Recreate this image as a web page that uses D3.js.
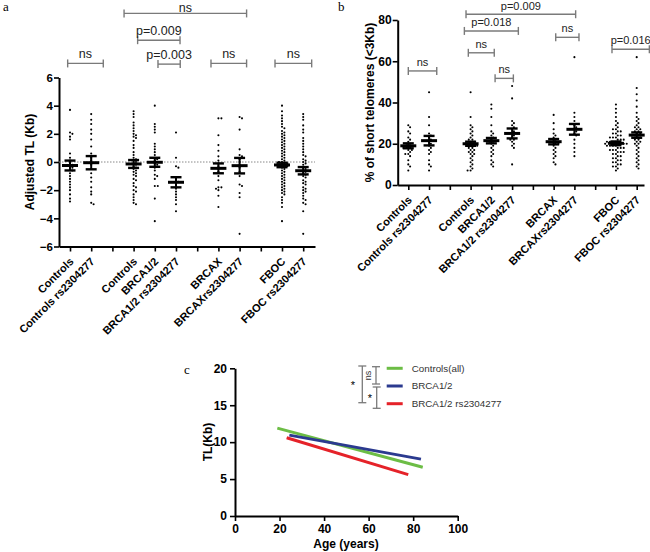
<!DOCTYPE html>
<html><head><meta charset="utf-8">
<script src="https://cdn.jsdelivr.net/npm/d3@7"></script>
<style>
body{margin:0;background:#fff;}
svg{display:block;font-family:Arial,"Liberation Sans",sans-serif;}
</style></head>
<body><svg id="chart" width="650" height="552"></svg>
<script>
// ---------- DATA ----------
const groupLabels = ["Controls","Controls rs2304277","","Controls","BRCA1/2","BRCA1/2 rs2304277","","BRCAX","BRCAXrs2304277","","FBOC","FBOC rs2304277"];

// Panel a: adjusted TL (Kb)
const aTicks = [-6,-4,-2,0,2,4,6];
const aControls = [3.7,2.1,2.0,1.8,1.6,0.6,0.3,0.1,-0.1,-0.2,-0.3,-0.4,-0.5,-0.6,-0.8,-1.0,-1.2,-1.4,-1.6,-1.8,-2.0,-2.3,-2.6,-2.8];
const aControlsRs = [3.4,3.0,2.7,2.3,2.0,1.6,1.1,0.6,0.3,0.1,-0.2,-0.5,-0.8,-1.1,-1.4,-1.8,-2.1,-2.3,-2.9,-3.0];
const aControls2 = [3.6,3.4,3.2,2.8,2.6,2.4,2.2,2.0,1.9,1.8,1.7,1.5,1.2,1.0,0.7,0.5,0.3,0.2,0.1,0.0,-0.1,-0.2,-0.3,-0.4,-0.5,-0.6,-0.7,-0.8,-0.9,-1.0,-1.2,-1.3,-1.5,-1.7,-1.8,-2.0,-2.1,-2.3,-2.5,-2.7,-2.9,-3.0];
const aBRCA = [4.0,2.7,2.5,2.3,2.1,1.3,1.1,0.9,0.7,0.5,0.3,0.2,0.1,0.0,-0.1,-0.2,-0.4,-0.6,-0.9,-1.0,-1.2,-1.7,-1.7,-2.6,-4.2];
const aBRCARs = [2.1,0.3,-0.3,-0.4,-1.1,-1.3,-1.4,-1.5,-1.7,-1.9,-2.1,-2.3,-2.5,-2.7,-3.0,-3.5];
const aBRCAX = [3.1,3.1,1.9,1.2,0.8,0.4,0.1,-0.1,-0.3,-0.5,-0.7,-1.0,-1.3,-1.8,-1.8,-1.9,-2.0,-2.4,-3.2];
const aBRCAXRs = [3.2,3.1,2.3,0.9,0.5,0.4,0.2,0.0,-0.2,-0.4,-0.7,-1.0,-1.6,-1.7,-2.2,-2.5,-5.1];
const aFBOC = [4.0,3.6,3.3,3.1,2.9,2.7,2.5,2.4,2.2,2.1,2.0,1.9,1.8,1.7,1.6,1.5,1.4,1.3,1.2,1.1,1.0,0.9,0.8,0.7,0.6,0.5,0.4,0.3,0.2,0.1,0.0,0.0,-0.1,-0.1,-0.2,-0.2,-0.3,-0.3,-0.4,-0.5,-0.6,-0.7,-0.8,-0.9,-1.0,-1.1,-1.2,-1.3,-1.4,-1.5,-1.6,-1.7,-1.8,-1.9,-2.0,-2.1,-2.2,-2.3,-2.5,-2.7,-2.9,-3.2,-4.2];
const aFBOCRs = [3.4,3.2,3.0,2.6,2.3,2.1,1.7,1.5,1.3,1.1,0.9,0.7,0.5,0.4,0.2,0.1,0.0,-0.1,-0.2,-0.4,-0.5,-0.6,-0.7,-0.8,-0.9,-1.0,-1.1,-1.3,-1.4,-1.5,-1.6,-1.8,-1.9,-2.0,-2.1,-2.2,-2.4,-2.6,-2.7,-2.9,-3.0,-3.5,-5.1];
const aGroups = [aControls,aControlsRs,[],aControls2,aBRCA,aBRCARs,[],aBRCAX,aBRCAXRs,[],aFBOC,aFBOCRs];
const aMeans = [-0.25,-0.05,null,-0.14,-0.02,-1.44,null,-0.45,-0.26,null,-0.21,-0.62];
const aSems  = [0.35,0.47,null,0.28,0.32,0.36,null,0.35,0.55,null,0.16,0.26];
// brackets: [fromIndex, toIndex, yValue, label]
const aBrackets = [[-0.11,1.57,7.0,"ns"],[2.55,8.33,10.55,"ns"],[3.19,5.19,8.65,"p=0.009"],[4.15,5.2,6.95,"p=0.003"],[6.65,8.33,7.0,"ns"],[9.67,11.4,7.0,"ns"]];

// Panel b: % short telomeres
const bTicks = [0,20,40,60,80];
const bControls = [29,28,26,25,23,22,21,20,20,19,19,18,18,18,17,17,16,15,15,14,12,10,9,7];
const bControlsRs = [45,33,29,25,24,23,22,21,20,19,18,17,16,15,12,10,9,7];
const bControls2 = [45,33,29,28,27,26,25,24,23,22,22,21,21,20,20,20,19,19,19,18,18,17,17,16,16,15,15,14,13,12,11,10,9,8,7,7];
const bBRCA = [39,37,33,29,26,25,24,23,22,21,21,20,19,18,17,16,15,14,12,11,10,9];
const bBRCARs = [48,42,31,30,29,28,27,26,25,24,23,22,22,21,20,19,18,10];
const bBRCAX = [34,30,27,25,24,23,22,21,21,20,20,19,18,17,16,15,14,13,11,10];
const bBRCAXRs = [62,35,33,31,29,28,27,26,25,24,22,20,18,16,14];
const bFBOC = [39,37,35,33,31,30,29,28,27,27,26,26,25,25,24,24,23,23,23,22,22,22,21,21,21,21,20,20,20,20,20,19,19,19,19,18,18,18,17,17,17,16,16,16,15,15,14,14,13,13,12,12,11,11,10,10,9,9,8,7];
const bFBOCRs = [62,47,44,41,38,35,33,32,31,30,29,28,28,27,27,26,26,25,25,24,24,24,23,23,22,22,21,21,20,20,19,18,17,16,15,14,13,12,11,10,9,8];
const bGroups = [bControls,bControlsRs,[],bControls2,bBRCA,bBRCARs,[],bBRCAX,bBRCAXRs,[],bFBOC,bFBOCRs];
const bMeans = [19.0,21.5,null,20.0,21.5,25.0,null,21.0,27.0,null,20.2,24.2];
const bSems  = [1.2,2.3,null,1.0,1.3,2.4,null,1.3,2.6,null,0.9,1.3];
const bBrackets = [[0,1.37,55.3,"ns"],[2.78,8.06,82.8,"p=0.009"],[2.70,5.30,74.7,"p=0.018"],[2.89,4.14,64.1,"ns"],[4.18,5.06,51.7,"ns"],[7.10,8.22,71.6,"ns"],[9.81,11.61,65.8,"p=0.016"]];

// Panel c: TL vs age regression lines
const cXTicks = [0,20,40,60,80,100];
const cYTicks = [0,5,10,15,20];
const cNames = ["Controls(all)","BRCA1/2","BRCA1/2 rs2304277"];
const cColors = ["#6cbd45","#2b3a8f","#e52229"];
const cAgeStart = [19.0,24.4,23.2];
const cTLStart  = [11.9,10.95,10.6];
const cAgeEnd   = [84.3,83.5,77.8];
const cTLEnd    = [6.6,7.7,5.6];

// ---------- DRAWING ----------
const svg = d3.select("#chart");
const FONT = 'Arial,"Liberation Sans",sans-serif';
const BR = "#7a7a7a";

function swarm(vals, yS, xc, minD){
  const pts = vals.map(v=>({y:yS(v)})).sort((p,q)=>p.y-q.y);
  const placed=[];
  pts.forEach(p=>{
    for(let k=0;k<200;k++){
      const off = (k%2?1:-1)*Math.ceil(k/2)*0.6;
      const x = xc+off;
      if(!placed.some(q=>(q.x-x)**2+(q.y-p.y)**2 < minD*minD)){ p.x=x; placed.push(p); break; }
    }
  });
  return placed;
}

function dotPanel(cfg){
  const g = svg.append("g");
  const x = d3.scaleLinear().domain([0,11]).range(cfg.xr);
  const y = d3.scaleLinear().domain(cfg.yd).range(cfg.yr);
  // y axis
  const ya = g.append("g").attr("transform",`translate(${cfg.axX},0)`)
    .call(d3.axisLeft(y).tickValues(cfg.ticks).tickSize(5).tickSizeOuter(0).tickFormat(d3.format("d")));
  ya.select(".domain").attr("stroke-width",2);
  ya.selectAll(".tick line").attr("stroke-width",1.6);
  ya.selectAll("text").attr("font-family",FONT).attr("font-weight","bold").attr("font-size",cfg.tickFs).attr("fill","#000").attr("x",-6);
  // x axis
  const xAxisScale = d3.scaleLinear().domain([x.invert(cfg.axX), x.invert(cfg.axEnd)]).range([cfg.axX,cfg.axEnd]);
  const xa = g.append("g").attr("transform",`translate(0,${cfg.yr[0]})`)
    .call(d3.axisBottom(xAxisScale).tickValues(d3.range(12)).tickSize(5).tickSizeOuter(0).tickFormat(i=>groupLabels[i]));
  xa.select(".domain").attr("stroke-width",2);
  xa.selectAll(".tick line").attr("stroke-width",1.6);
  xa.selectAll("text").attr("font-family",FONT).attr("font-weight","bold").attr("font-size",11).attr("fill","#000")
    .attr("text-anchor","end").attr("x",0).attr("y",0).attr("dy","0.35em")
    .attr("transform","translate(1,13) rotate(-45)");
  if(cfg.zeroLine){
    g.append("line").attr("x1",cfg.axX).attr("x2",cfg.axEnd).attr("y1",y(0)).attr("y2",y(0))
      .attr("stroke","#888").attr("stroke-width",1).attr("stroke-dasharray","1.5,1.5");
  }
  // dots
  cfg.groups.forEach((vals,i)=>{
    const pts = swarm(vals,y,x(i),2.7);
    g.append("g").selectAll("circle").data(pts).join("circle")
      .attr("cx",d=>d.x).attr("cy",d=>d.y).attr("r",1.05).attr("fill","#000");
  });
  // mean + sem
  cfg.means.forEach((m,i)=>{
    if(m==null) return;
    const s=cfg.sems[i], cx=x(i);
    const e = g.append("g").attr("stroke","#000");
    e.append("line").attr("x1",cx).attr("x2",cx).attr("y1",y(m+s)).attr("y2",y(m-s)).attr("stroke-width",2);
    e.append("line").attr("x1",cx-8).attr("x2",cx+8).attr("y1",y(m)).attr("y2",y(m)).attr("stroke-width",3);
    [m+s,m-s].forEach(v=>e.append("line").attr("x1",cx-5.5).attr("x2",cx+5.5).attr("y1",y(v)).attr("y2",y(v)).attr("stroke-width",2.4));
  });
  // brackets
  cfg.brackets.forEach(([a,b,v,lab])=>{
    const x1=x(a),x2=x(b),yy=y(v);
    const bg=g.append("g").attr("stroke",BR).attr("stroke-width",1.4);
    bg.append("line").attr("x1",x1).attr("x2",x2).attr("y1",yy).attr("y2",yy);
    [x1,x2].forEach(xx=>bg.append("line").attr("x1",xx).attr("x2",xx).attr("y1",yy-4).attr("y2",yy+4));
    const ty = Math.max(yy-5, cfg.brFs*0.95);
    g.append("text").attr("x",(x1+x2)/2).attr("y",ty).attr("text-anchor","middle")
      .attr("font-family",FONT).attr("font-size",cfg.brFs).attr("fill","#222").text(lab);
  });
  // y title
  g.append("text").attr("transform",`translate(${cfg.titleX},${(cfg.yr[0]+cfg.yr[1])/2}) rotate(-90)`)
    .attr("text-anchor","middle").attr("font-family",FONT).attr("font-weight","bold").attr("font-size",12).text(cfg.title);
}

dotPanel({xr:[70,303.2], yd:[-6,6], yr:[246.5,77.5], axX:59, axEnd:315, ticks:aTicks, tickFs:11.5,
  groups:aGroups, means:aMeans, sems:aSems, brackets:aBrackets, brFs:12.5, zeroLine:true,
  title:"Adjusted TL (Kb)", titleX:34});
dotPanel({xr:[408.3,636.7], yd:[0,80], yr:[185,20], axX:397.7, axEnd:644, ticks:bTicks, tickFs:12,
  groups:bGroups, means:bMeans, sems:bSems, brackets:bBrackets, brFs:11, zeroLine:false,
  title:"% of short telomeres (<3Kb)", titleX:374});

// panel letters
[["a",3,11],["b",338,11],["c",184,374]].forEach(([t,x,y])=>
  svg.append("text").attr("x",x).attr("y",y).attr("font-family",'"Liberation Serif","DejaVu Serif",serif').attr("font-size",13).text(t));

// ---------- Panel c ----------
const gc = svg.append("g");
const xc = d3.scaleLinear().domain([0,100]).range([235,457.7]);
const yc = d3.scaleLinear().domain([0,20]).range([516,368.3]);
const cya = gc.append("g").attr("transform","translate(235,0)")
  .call(d3.axisLeft(yc).tickValues(cYTicks).tickSize(5).tickSizeOuter(0));
const cxa = gc.append("g").attr("transform","translate(0,516)")
  .call(d3.axisBottom(xc).tickValues(cXTicks).tickSize(5).tickSizeOuter(0));
[cya,cxa].forEach(a=>{
  a.select(".domain").attr("stroke-width",2);
  a.selectAll(".tick line").attr("stroke-width",1.6);
  a.selectAll("text").attr("font-family",FONT).attr("font-weight","bold").attr("font-size",12).attr("fill","#000");
});
gc.append("text").attr("x",346).attr("y",548).attr("text-anchor","middle").attr("font-family",FONT)
  .attr("font-weight","bold").attr("font-size",12).text("Age (years)");
gc.append("text").attr("transform","translate(212,442) rotate(-90)").attr("text-anchor","middle").attr("font-family",FONT)
  .attr("font-weight","bold").attr("font-size",12).text("TL(Kb)");
cNames.forEach((n,i)=>{
  gc.append("line").attr("x1",xc(cAgeStart[i])).attr("y1",yc(cTLStart[i])).attr("x2",xc(cAgeEnd[i])).attr("y2",yc(cTLEnd[i]))
    .attr("stroke",cColors[i]).attr("stroke-width",3);
});
// legend
const legY = [368.3,386,403.7];
cNames.forEach((n,i)=>{
  gc.append("line").attr("x1",386.7).attr("x2",402.7).attr("y1",legY[i]).attr("y2",legY[i]).attr("stroke",cColors[i]).attr("stroke-width",3);
  gc.append("text").attr("x",411.7).attr("y",legY[i]).attr("dy","0.35em").attr("font-family",FONT).attr("font-size",9.8).attr("fill","#333").text(n);
});
// significance brackets (vertical)
function vbr(xx,y1,y2){
  const b=gc.append("g").attr("stroke",BR).attr("stroke-width",1.3);
  b.append("line").attr("x1",xx).attr("x2",xx).attr("y1",y1).attr("y2",y2);
  [y1,y2].forEach(v=>b.append("line").attr("x1",xx-4).attr("x2",xx+4).attr("y1",v).attr("y2",v));
}
vbr(362.3,366,402.7);
vbr(376,366.7,384);
vbr(376.7,387,408.3);
gc.append("text").attr("x",353).attr("y",389).attr("text-anchor","middle").attr("font-family",FONT).attr("font-size",11).text("*");
gc.append("text").attr("x",370).attr("y",402).attr("text-anchor","middle").attr("font-family",FONT).attr("font-size",11).text("*");
gc.append("text").attr("transform","translate(371,375.5) rotate(-90)").attr("text-anchor","middle").attr("font-family",FONT).attr("font-size",9).attr("fill","#333").text("ns");
</script></body></html>
